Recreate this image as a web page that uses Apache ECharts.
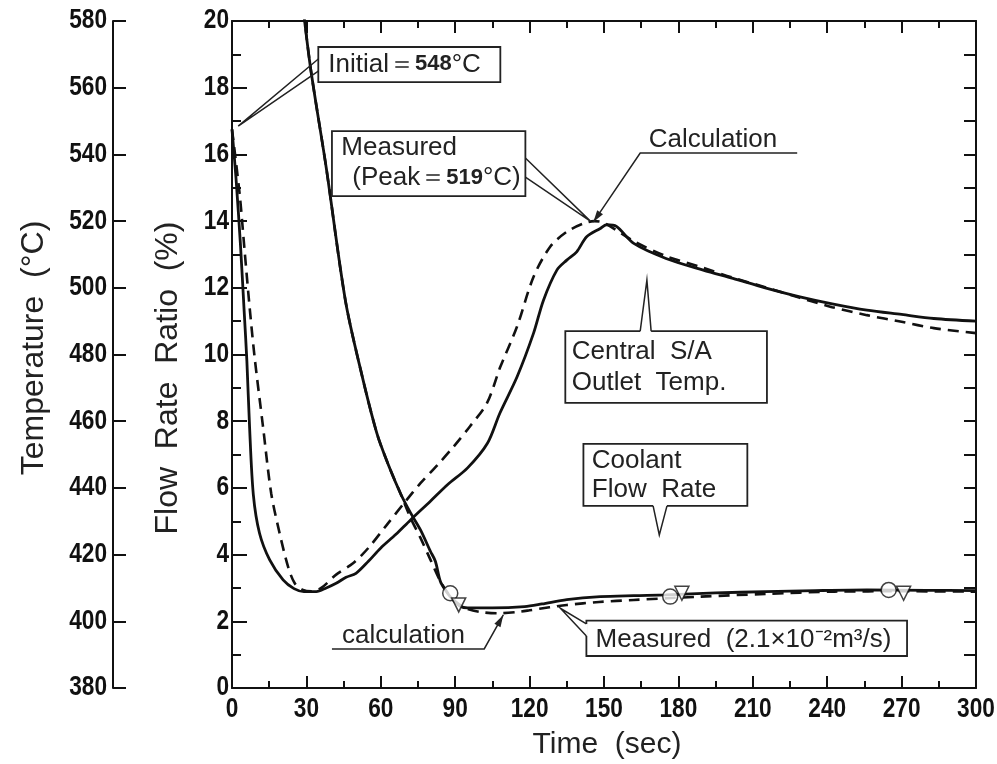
<!DOCTYPE html>
<html>
<head>
<meta charset="utf-8">
<script src="https://cdn.jsdelivr.net/npm/echarts@6/dist/echarts.min.js"></script>
<style>
  html, body { margin: 0; padding: 0; background: #fff; }
  #main { width: 997px; height: 764px; }
</style>
</head>
<body>
<div id="main"></div>
<script>
// values (time in sec)
// central S/A outlet temperature, deg C
const tempMeasTime = [0, 1.6, 3.4, 4.9, 6.0, 7.1, 8.6, 11.1, 15.2, 20.6, 25, 29, 34, 38, 42, 46, 50, 55, 60, 66, 72, 80, 87, 95, 103, 108, 115, 121.6, 125.6, 131, 135, 139, 143, 148.5, 151, 155, 162, 175, 190, 202, 215, 229, 242, 256, 270, 283, 300];
const tempMeas = [547.5, 533, 513, 493, 478, 458, 438, 426.4, 418.4, 412.4, 409.8, 408.9, 408.9, 410, 411.4, 413.2, 414.4, 418, 422, 426, 430.4, 436, 441, 446, 453.4, 462.4, 473.4, 486.4, 496.3, 505.3, 508.3, 510.8, 515.3, 517.8, 518.9, 518.4, 513.3, 508.8, 505.3, 502.8, 500, 497.3, 495.2, 493.3, 492, 490.8, 490];
const tempCalcTime = [0, 3.1, 5.1, 7.0, 9.1, 12.5, 15.8, 19.2, 22.6, 25.3, 28.6, 32, 36, 42, 48.8, 55, 62.5, 70, 76, 83, 89.4, 96, 102.8, 108.2, 114.9, 121.6, 128.3, 135, 141.8, 146, 150, 162, 175, 190, 202, 215, 229, 242, 256, 270, 283, 300];
const tempCalc = [547.5, 528, 511, 495, 479.3, 458.4, 438.4, 426.4, 416.4, 411.4, 409.4, 409, 410, 414, 417.4, 422, 429, 436, 441.4, 447, 452.4, 458.5, 465.4, 476.3, 488.3, 503.3, 512.3, 516.8, 519.3, 520, 519.5, 514, 509.5, 506, 503, 500.2, 497, 494.2, 491.8, 489.8, 487.9, 486.4];

// coolant flow rate ratio, %
const flowMeasTime = [28, 31.6, 38, 45.7, 52, 58.4, 63, 67.9, 72, 76, 80, 82, 84, 86, 89, 92, 95, 105, 118, 125, 135, 148.5, 162, 175, 195, 215, 235, 256, 280, 300];
const flowMeas = [20.83, 18.63, 15.6, 11.63, 9.5, 7.64, 6.7, 5.84, 5.25, 4.74, 4.1, 3.8, 3.2, 2.94, 2.65, 2.45, 2.4, 2.4, 2.44, 2.52, 2.65, 2.74, 2.77, 2.79, 2.85, 2.89, 2.92, 2.94, 2.93, 2.92];
const flowCalcTime = [28, 31.6, 38, 45.7, 52, 58.4, 63, 67.9, 72, 76, 80, 84, 87, 90, 94, 100, 107, 115, 120, 128, 135, 148, 162, 189, 215, 243, 270, 300];
const flowCalc = [20.83, 18.63, 15.6, 11.63, 9.5, 7.64, 6.7, 5.84, 5.1, 4.5, 3.85, 3.2, 2.85, 2.6, 2.4, 2.28, 2.24, 2.28, 2.33, 2.42, 2.49, 2.58, 2.64, 2.74, 2.82, 2.89, 2.9, 2.89];

// measured flow points (open marks)
const circleTime = [88, 176.7, 264.8];
const circleFlow = [2.84, 2.74, 2.94];
const triTime = [91.4, 181.4, 270.8];
const triFlow = [2.49, 2.84, 2.84];

// tick labels
const timeTicks = [0, 30, 60, 90, 120, 150, 180, 210, 240, 270, 300];
const flowTicks = [0, 2, 4, 6, 8, 10, 12, 14, 16, 18, 20];
const tempTicks = [380, 400, 420, 440, 460, 480, 500, 520, 540, 560, 580];

const zip = (a, b) => a.map((x, i) => [x, b[i]]);

const SANS = "'Liberation Sans', Arial, sans-serif";
const INK = '#111';

const chart = echarts.init(document.getElementById('main'));

const axisLine = { show: true, onZero: false, lineStyle: { color: INK, width: 2 } };
const tickStyle = { color: INK, width: 2 };

const option = {
  animation: false,
  backgroundColor: '#fff',
  grid: { left: 232, right: 21, top: 21, bottom: 76, outerBoundsMode: 'none', containLabel: false },
  xAxis: [
    {
      type: 'value', position: 'bottom', min: 0, max: 300, interval: 30,
      axisLine: axisLine,
      axisTick: { inside: true, length: 12, lineStyle: tickStyle },
      minorTick: { show: true, splitNumber: 2, length: 7, lineStyle: tickStyle },
      axisLabel: { show: false },
      splitLine: { show: false }
    },
    {
      type: 'value', position: 'top', min: 0, max: 300, interval: 30,
      axisLine: axisLine,
      axisTick: { inside: true, length: 12, lineStyle: tickStyle },
      minorTick: { show: true, splitNumber: 2, length: 7, lineStyle: tickStyle },
      axisLabel: { show: false },
      splitLine: { show: false }
    }
  ],
  yAxis: [
    {
      // temperature scale, drawn apart on the left
      type: 'value', position: 'left', offset: 119, min: 380, max: 580, interval: 20,
      axisLine: axisLine,
      axisTick: { show: true, inside: true, length: 13, lineStyle: tickStyle },
      axisLabel: { show: false },
      splitLine: { show: false }
    },
    {
      type: 'value', position: 'left', min: 0, max: 20, interval: 2,
      axisLine: axisLine,
      axisTick: { show: true, inside: true, length: 15, lineStyle: tickStyle },
      minorTick: { show: true, splitNumber: 2, length: 9, lineStyle: tickStyle },
      axisLabel: { show: false },
      splitLine: { show: false }
    },
    {
      type: 'value', position: 'right', min: 0, max: 20, interval: 1,
      axisLine: axisLine,
      axisTick: { show: true, inside: true, length: 12, lineStyle: tickStyle },
      axisLabel: { show: false },
      splitLine: { show: false }
    }
  ],
  series: [
    {
      name: 'temp measured', type: 'line', yAxisIndex: 0, showSymbol: false, smooth: 0.3,
      data: zip(tempMeasTime, tempMeas),
      lineStyle: { color: INK, width: 2.8 }
    },
    {
      name: 'temp calculation', type: 'line', yAxisIndex: 0, showSymbol: false, smooth: 0.3,
      data: zip(tempCalcTime, tempCalc),
      lineStyle: { color: INK, width: 2.6, type: [11, 7] }
    },
    {
      name: 'flow measured', type: 'line', yAxisIndex: 1, showSymbol: false, smooth: 0.3,
      data: zip(flowMeasTime, flowMeas),
      lineStyle: { color: INK, width: 2.8 }
    },
    {
      name: 'flow calculation', type: 'line', yAxisIndex: 1, showSymbol: false, smooth: 0.3,
      data: zip(flowCalcTime, flowCalc),
      lineStyle: { color: INK, width: 2.6, type: [11, 7] }
    },
    {
      name: 'flow points o', type: 'scatter', yAxisIndex: 1, symbol: 'circle', symbolSize: 15,
      data: zip(circleTime, circleFlow),
      itemStyle: { color: '#fff', borderColor: INK, borderWidth: 1.5 }, z: 5
    },
    {
      name: 'flow points v', type: 'scatter', yAxisIndex: 1, symbol: 'triangle', symbolSize: 14, symbolRotate: 180,
      data: zip(triTime, triFlow),
      itemStyle: { color: '#fff', borderColor: INK, borderWidth: 1.5 }, z: 5
    }
  ]
};

chart.setOption(option);

// annotations, anchored in (time, flow %) data space
const P = (t, f) => chart.convertToPixel({ xAxisIndex: 0, yAxisIndex: 1 }, [t, f]);
const PT = (t, temp) => chart.convertToPixel({ xAxisIndex: 0, yAxisIndex: 0 }, [t, temp]);
const els = [];
const stroke = { stroke: '#222', lineWidth: 1.5, fill: null };

function poly(pts, w) {
  els.push({ type: 'polyline', z: 20, shape: { points: pts.map(p => P(p[0], p[1])) }, style: Object.assign({}, stroke, { lineWidth: w || 1.5 }) });
}
function box(t0, f0, t1, f1) {
  const a = P(t0, f1), b = P(t1, f0);
  els.push({ type: 'rect', z: 19, shape: { x: a[0], y: a[1], width: b[0] - a[0], height: b[1] - a[1] }, style: { fill: '#fff', stroke: '#222', lineWidth: 1.8 } });
}
function gap(p0, p1) {
  const a = P(...p0), b = P(...p1);
  els.push({ type: 'line', z: 19.5, shape: { x1: a[0], y1: a[1], x2: b[0], y2: b[1] }, style: { stroke: '#fff', lineWidth: 3 } });
}
function arrow(from, to) {
  const a = P(...from), b = P(...to);
  const ang = Math.atan2(b[1] - a[1], b[0] - a[0]);
  const L = 12, W = 3.5;
  const bx = b[0] - L * Math.cos(ang), by = b[1] - L * Math.sin(ang);
  els.push({ type: 'polygon', z: 21, shape: { points: [b, [bx - W * Math.sin(ang), by + W * Math.cos(ang)], [bx + W * Math.sin(ang), by - W * Math.cos(ang)]] }, style: { fill: '#222' } });
}
function label(t, f, text) {
  const p = P(t, f);
  els.push({
    type: 'text', z: 22, x: p[0], y: p[1],
    style: {
      text: text, fill: '#222', font: '26px ' + SANS, textAlign: 'left', textVerticalAlign: 'middle',
      rich: { n: { fontFamily: SANS, fontWeight: 'bold', fontSize: 22, fill: '#222' } }
    }
  });
}
// narrow tick digits, squeezed horizontally like the print
function tickText(x, y, text, align) {
  els.push({
    type: 'text', z: 22, x: x, y: y, scaleX: 0.84,
    style: { text: text, fill: INK, font: 'bold 27px ' + SANS, textAlign: align, textVerticalAlign: 'middle' }
  });
}

timeTicks.forEach(t => { const p = P(t, 0); tickText(p[0], p[1] + 22, String(t), 'center'); });
flowTicks.forEach(f => { const p = P(0, f); tickText(p[0] - 3, p[1], String(f), 'right'); });
tempTicks.forEach(v => { const p = PT(0, v); tickText(p[0] - 125, p[1], String(v), 'right'); });

// Initial = 548 C
poly([[34.8, 18.86], [2.5, 16.85], [34.8, 18.5]]);
box(34.8, 18.17, 108.2, 19.22);
label(38.8, 18.7, 'Initial＝{n|548}°C');

// Measured (Peak = 519 C)
poly([[118.3, 15.89], [144.5, 14.0], [118.3, 15.32]]);
box(40.3, 14.75, 118.3, 16.70);
label(44.1, 16.19, 'Measured');
label(48.5, 15.29, '(Peak＝{n|519}°C)');

// Calculation (temperature)
poly([[227.9, 16.04], [164.6, 16.04], [145.7, 13.97]]);
arrow([164.6, 16.04], [145.7, 13.97]);
label(168.0, 16.45, 'Calculation');

// Central S/A Outlet Temp.
box(134.4, 8.55, 215.7, 10.70);
gap([164.6, 10.70], [169.0, 10.70]);
poly([[164.6, 10.70], [167.3, 12.23], [169.0, 10.70]]);
label(137.0, 10.07, 'Central  S/A');
label(137.0, 9.15, 'Outlet  Temp.');

// Coolant Flow Rate
box(141.7, 5.46, 207.8, 7.32);
gap([169.8, 5.46], [175.4, 5.46]);
poly([[169.8, 5.46], [172.3, 4.59], [175.4, 5.46]]);
label(145.1, 6.81, 'Coolant');
label(145.1, 5.94, 'Flow  Rate');

// calculation (flow)
poly([[40.3, 1.17], [101.7, 1.17], [109.4, 2.19]]);
arrow([101.7, 1.17], [109.4, 2.19]);
label(44.4, 1.55, 'calculation');

// Measured (2.1x10-2 m3/s)
poly([[142.9, 1.92], [132.4, 2.39], [142.9, 1.56]]);
box(142.9, 0.96, 272.2, 2.02);
gap([142.9, 1.92], [142.9, 1.56]);
label(146.6, 1.44, 'Measured  (2.1×10⁻²m³/s)');

// axis titles
els.push({ type: 'text', x: 34, y: 348, rotation: Math.PI / 2, style: { text: 'Temperature  (°C)', font: '32px ' + SANS, fill: '#222', textAlign: 'center', textVerticalAlign: 'middle' } });
els.push({ type: 'text', x: 168, y: 378, rotation: Math.PI / 2, style: { text: 'Flow  Rate  Ratio  (%)', font: '32px ' + SANS, fill: '#222', textAlign: 'center', textVerticalAlign: 'middle' } });
els.push({ type: 'text', x: 607, y: 745, style: { text: 'Time  (sec)', font: '30px ' + SANS, fill: '#222', textAlign: 'center', textVerticalAlign: 'middle' } });

chart.setOption({ graphic: { elements: els } });
</script>
</body>
</html>
